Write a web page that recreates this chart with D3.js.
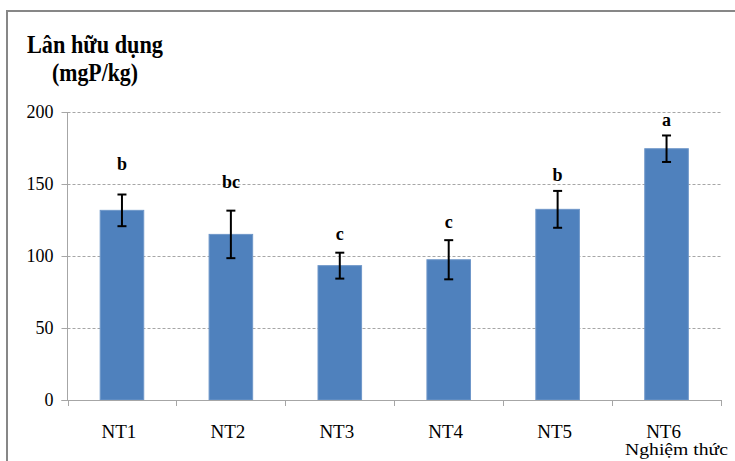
<!DOCTYPE html>
<html><head><meta charset="utf-8">
<script src="https://cdn.jsdelivr.net/npm/d3@7"></script>
<style>body{margin:0;background:#fff}svg{display:block}
svg text{font-family:"Liberation Serif","Times New Roman",Times,serif}</style>
</head><body>
<script>
const categories = ["NT1","NT2","NT3","NT4","NT5","NT6"];
const values = [131.7, 115, 93.3, 97.4, 132.4, 174.5];
const errors = [11, 16.5, 9, 13.6, 12.8, 9.2];
const letters = ["b","bc","c","c","b","a"];
const letterLevels = [159.7, 147.2, 111.1, 119.4, 152.3, 190.3];
const yTicks = [0, 50, 100, 150, 200];

const W = 735, H = 461;
const svg = d3.select("body").append("svg").attr("width", W).attr("height", H);

// outer frame
svg.append("rect").attr("x", 7).attr("y", 11).attr("width", 740).attr("height", 470)
  .attr("fill", "none").attr("stroke", "#878787").attr("stroke-width", 2);

const x = d3.scaleBand().domain(categories).range([67.5, 721]).paddingInner(0.6).paddingOuter(0.3);
const y = d3.scaleLinear().domain([0, 200]).range([400, 112]);

// gridlines
svg.append("g").selectAll("line").data(yTicks.filter(d => d > 0)).join("line")
  .attr("x1", 67.5).attr("x2", 721).attr("y1", d => Math.round(y(d)) + 0.5).attr("y2", d => Math.round(y(d)) + 0.5)
  .attr("stroke", "#a6a6a6").attr("stroke-width", 1).attr("stroke-dasharray", "3,2");

// y axis
const yAxis = svg.append("g").attr("transform", "translate(67.5,0)")
  .call(d3.axisLeft(y).tickValues(yTicks).tickSize(6).tickPadding(8));
yAxis.attr("font-family", null);
yAxis.select(".domain").attr("stroke", "#a6a6a6").attr("d", "M0," + y(200) + "V" + y(0));
yAxis.selectAll(".tick line").attr("stroke", "#a6a6a6");
yAxis.selectAll("text").attr("font-size", 18).attr("fill", "#000");

// bars
svg.append("g").selectAll("rect").data(values).join("rect")
  .attr("x", (d, i) => x(categories[i])).attr("width", x.bandwidth())
  .attr("y", d => y(d)).attr("height", d => y(0) - y(d))
  .attr("fill", "#4f81bd").attr("stroke", "#6f97c9").attr("stroke-width", 1);

// x axis
const boundaries = d3.range(categories.length + 1).map(i => 67.5 + i * (721 - 67.5) / categories.length);
const xa = svg.append("g");
xa.append("line").attr("x1", 61.5).attr("x2", 721).attr("y1", 400.5).attr("y2", 400.5)
  .attr("stroke", "#a6a6a6");
xa.selectAll("line.t").data(boundaries).join("line").attr("class", "t")
  .attr("x1", d => Math.round(d) + 0.5).attr("x2", d => Math.round(d) + 0.5)
  .attr("y1", 400).attr("y2", 406).attr("stroke", "#a6a6a6");
xa.selectAll("text").data(categories).join("text")
  .attr("x", d => x(d) + x.bandwidth() / 2 - 3).attr("y", 438)
  .attr("text-anchor", "middle").attr("font-size", 19).text(d => d);

// error bars
const eb = svg.append("g").attr("stroke", "#000").attr("stroke-width", 2);
values.forEach((v, i) => {
  const cx = x(categories[i]) + x.bandwidth() / 2;
  eb.append("line").attr("x1", cx).attr("x2", cx).attr("y1", y(v + errors[i])).attr("y2", y(v - errors[i]));
  eb.append("line").attr("x1", cx - 4.5).attr("x2", cx + 4.5).attr("y1", y(v + errors[i])).attr("y2", y(v + errors[i]));
  eb.append("line").attr("x1", cx - 4.5).attr("x2", cx + 4.5).attr("y1", y(v - errors[i])).attr("y2", y(v - errors[i]));
});

// significance letters
svg.append("g").selectAll("text").data(letters).join("text")
  .attr("x", (d, i) => x(categories[i]) + x.bandwidth() / 2)
  .attr("y", (d, i) => y(letterLevels[i]))
  .attr("text-anchor", "middle").attr("font-weight", "bold")
  .attr("font-size", 18).text(d => d);

// title
svg.append("text").attr("x", 27).attr("y", 53).attr("font-weight", "bold")
  .attr("font-size", 26).attr("textLength", 136).attr("lengthAdjust", "spacingAndGlyphs").text("Lân hữu dụng");
svg.append("text").attr("x", 52).attr("y", 81).attr("font-weight", "bold")
  .attr("font-size", 25).attr("textLength", 86).attr("lengthAdjust", "spacingAndGlyphs").text("(mgP/kg)");

// x axis title
svg.append("text").attr("x", 625).attr("y", 455)
  .attr("font-size", 16).attr("textLength", 103).attr("lengthAdjust", "spacingAndGlyphs").text("Nghiệm thức");
</script>
</body></html>
